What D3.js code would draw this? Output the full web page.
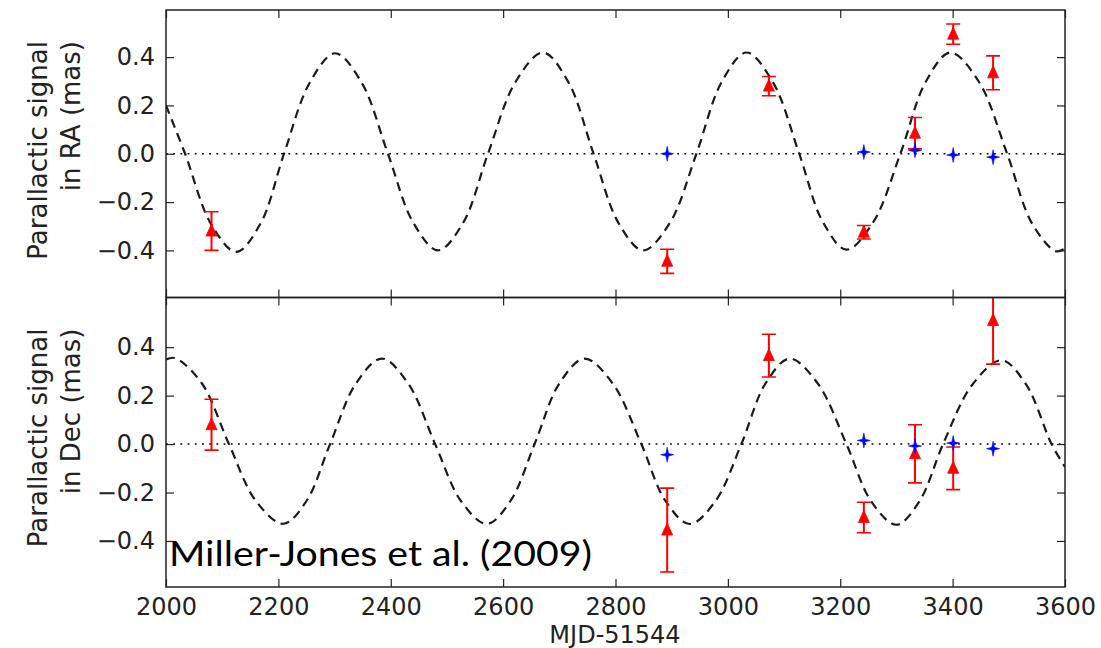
<!DOCTYPE html>
<html>
<head>
<meta charset="utf-8">
<script src="https://cdn.jsdelivr.net/npm/d3@7"></script>
<style>
  html, body { margin: 0; padding: 0; background: #fff; }
  svg { display: block; }
</style>
</head>
<body>
<svg id="chart" width="1101" height="648"></svg>
<script>
// ---------------- data ----------------
const xDomain = [2000, 3600];
const xTicks = [2000, 2200, 2400, 2600, 2800, 3000, 3200, 3400, 3600];
const yTicks = [-0.4, -0.2, 0.0, 0.2, 0.4];
const yDomainRA = [-0.595, 0.595];
const yDomainDec = [-0.59, 0.605];

// observed epochs (MJD-51544) — red triangles (source)
const obsMJD = [2081, 2892, 3073, 3242, 3333, 3401, 3472];
const raVal  = [-0.32, -0.445, 0.28, -0.325, 0.085, 0.495, 0.335];
const raErr  = [0.08, 0.05, 0.04, 0.028, 0.065, 0.042, 0.07];
const decVal = [0.08, -0.355, 0.365, -0.303, -0.04, -0.10, 0.51];
const decErr = [0.105, 0.173, 0.088, 0.063, 0.12, 0.088, 0.18];

// blue stars (reference)
const refMJD = [2892, 3242, 3333, 3401, 3472];
const refRA  = [0.0, 0.007, 0.014, -0.005, -0.014];
const refDec = [-0.044, 0.015, -0.008, 0.004, -0.019];

// model curves
const raModelMJD = [2000, 2034, 2080, 2125, 2168, 2210, 2256, 2301, 2348, 2395, 2440, 2484, 2529, 2573, 2622, 2671, 2716, 2761, 2805, 2849, 2897, 2944, 2989, 3033, 3080, 3127, 3169, 3211, 3259, 3307, 3352, 3396, 3447, 3497, 3541, 3584, 3600];
const raModelVal = [0.2, 0, -0.29, -0.406, -0.29, 0, 0.295, 0.416, 0.295, 0, -0.285, -0.40, -0.285, 0, 0.297, 0.419, 0.297, 0, -0.285, -0.40, -0.285, 0, 0.297, 0.419, 0.297, 0, -0.282, -0.397, -0.282, 0, 0.297, 0.419, 0.297, 0, -0.287, -0.404, -0.392];
const decModelMJD = [2000, 2016, 2064, 2112, 2160, 2209, 2250, 2292, 2338, 2384, 2431, 2479, 2525, 2571, 2613, 2656, 2700, 2745, 2795, 2846, 2889, 2932, 2978, 3024, 3067, 3110, 3160, 3211, 3255, 3300, 3341, 3383, 3435, 3487, 3531, 3576, 3600];
const decModelVal = [0.349, 0.355, 0.25, 0, -0.235, -0.329, -0.235, 0, 0.25, 0.353, 0.25, 0, -0.235, -0.33, -0.235, 0, 0.25, 0.353, 0.25, 0, -0.235, -0.33, -0.235, 0, 0.25, 0.353, 0.25, 0, -0.236, -0.333, -0.236, 0, 0.245, 0.346, 0.245, 0, -0.095];

const yLabelsRA = ["Parallactic signal", "in RA (mas)"];
const yLabelsDec = ["Parallactic signal", "in Dec (mas)"];
const xLabel = "MJD-51544";
const citation = "Miller-Jones et al. (2009)";

// ---------------- layout ----------------
const L = 166, R = 1065;
const panels = [
  { top: 10, bottom: 297.5, dom: yDomainRA, val: raVal, err: raErr, ref: refRA,
    mMJD: raModelMJD, mVal: raModelVal, labels: yLabelsRA, showX: false },
  { top: 297.5, bottom: 587, dom: yDomainDec, val: decVal, err: decErr, ref: refDec,
    mMJD: decModelMJD, mVal: decModelVal, labels: yLabelsDec, showX: true }
];

const svg = d3.select("#chart");
const x = d3.scaleLinear().domain(xDomain).range([L, R]);
const tickFont = "'DejaVu Sans', sans-serif";

panels.forEach((p, i) => {
  const y = d3.scaleLinear().domain(p.dom).range([p.bottom, p.top]);
  const g = svg.append("g");
  const clipId = "clip" + i;
  svg.append("clipPath").attr("id", clipId).append("rect")
    .attr("x", L).attr("y", p.top).attr("width", R - L).attr("height", p.bottom - p.top);

  const plot = g.append("g").attr("clip-path", `url(#${clipId})`);

  // zero dotted line
  plot.append("line")
    .attr("x1", L).attr("x2", R).attr("y1", y(0)).attr("y2", y(0))
    .attr("stroke", "#000").attr("stroke-width", 1.6).attr("stroke-dasharray", "1.8,5.4");

  // model curve
  const pts = p.mMJD.map((d, k) => [d, p.mVal[k]]);
  plot.append("path")
    .datum(pts)
    .attr("d", d3.line().x(d => x(d[0])).y(d => y(d[1])).curve(d3.curveCatmullRom.alpha(0.5)))
    .attr("fill", "none").attr("stroke", "#1a1a1a").attr("stroke-width", 2.2)
    .attr("stroke-dasharray", "9,6");

  // error bars
  const eb = plot.append("g").attr("stroke", "#ff0000").attr("stroke-width", 1.6);
  obsMJD.forEach((m, k) => {
    const cx = x(m);
    const y1 = y(p.val[k] + p.err[k]), y2 = y(p.val[k] - p.err[k]);
    eb.append("line").attr("x1", cx).attr("x2", cx).attr("y1", y1).attr("y2", y2).attr("stroke-width", 2);
    eb.append("line").attr("x1", cx - 7).attr("x2", cx + 7).attr("y1", y1).attr("y2", y1);
    eb.append("line").attr("x1", cx - 7).attr("x2", cx + 7).attr("y1", y2).attr("y2", y2);
  });
  // triangles
  plot.selectAll("path.tri").data(obsMJD).enter().append("path")
    .attr("class", "tri")
    .attr("d", "M0,-7L5.5,5L-5.5,5Z")
    .attr("transform", (m, k) => `translate(${x(m)},${y(p.val[k])})`)
    .attr("fill", "#ff0000").attr("stroke", "#ff0000").attr("stroke-width", 0.8);

  // blue four-pointed stars
  plot.selectAll("path.star").data(refMJD).enter().append("path")
    .attr("class", "star")
    .attr("d", "M0,-7.5L1.3,-1.3L6.5,0L1.3,1.3L0,7.5L-1.3,1.3L-6.5,0L-1.3,-1.3Z")
    .attr("transform", (m, k) => `translate(${x(m)},${y(p.ref[k])})`)
    .attr("fill", "#0000ff").attr("stroke", "#0000ff").attr("stroke-width", 0.6);

  // axes: ticks inward
  const yl = g.append("g").attr("transform", `translate(${L},0)`)
    .call(d3.axisLeft(y).tickValues(yTicks).tickSize(-8).tickPadding(11).tickFormat(d3.format(".1f")));
  const yr = g.append("g").attr("transform", `translate(${R},0)`)
    .call(d3.axisRight(y).tickValues(yTicks).tickSize(-8).tickFormat(""));
  const xb = g.append("g").attr("transform", `translate(0,${p.bottom})`)
    .call(d3.axisBottom(x).tickValues(xTicks).tickSize(-8).tickPadding(11).tickFormat(p.showX ? d3.format("d") : ""));
  const xt = g.append("g").attr("transform", `translate(0,${p.top})`)
    .call(d3.axisTop(x).tickValues(xTicks).tickSize(-8).tickFormat(""));
  [yl, yr, xb, xt].forEach(a => {
    a.select(".domain").remove();
    a.selectAll(".tick line").attr("stroke", "#222").attr("stroke-width", 1.2);
    a.selectAll("text").attr("font-family", tickFont).attr("font-size", 24).attr("fill", "#222");
  });
  xb.selectAll("text").attr("dy", "0.71em");

  // frame
  g.append("rect").attr("x", L).attr("y", p.top).attr("width", R - L).attr("height", p.bottom - p.top)
    .attr("fill", "none").attr("stroke", "#222").attr("stroke-width", 1.5);

  // y label (two lines, rotated, end-aligned at top)
  const lab = g.append("text")
    .attr("transform", `translate(0,${p.top + 31}) rotate(-90)`)
    .attr("text-anchor", "end")
    .attr("font-family", tickFont).attr("font-size", 26).attr("fill", "#222");
  lab.append("tspan").attr("x", 0).attr("y", 47).text(p.labels[0]);
  lab.append("tspan").attr("x", 0).attr("y", 80).text(p.labels[1]);
});

// x label
svg.append("text").attr("x", 615).attr("y", 643).attr("text-anchor", "middle")
  .attr("font-family", tickFont).attr("font-size", 24).attr("fill", "#222").text(xLabel);

// citation
svg.append("text").attr("x", 169).attr("y", 565.5)
  .attr("font-family", "Lato, 'Open Sans', sans-serif").attr("font-size", 35).attr("fill", "#000")
  .attr("textLength", 423).attr("lengthAdjust", "spacingAndGlyphs")
  .text(citation);
</script>
</body>
</html>
